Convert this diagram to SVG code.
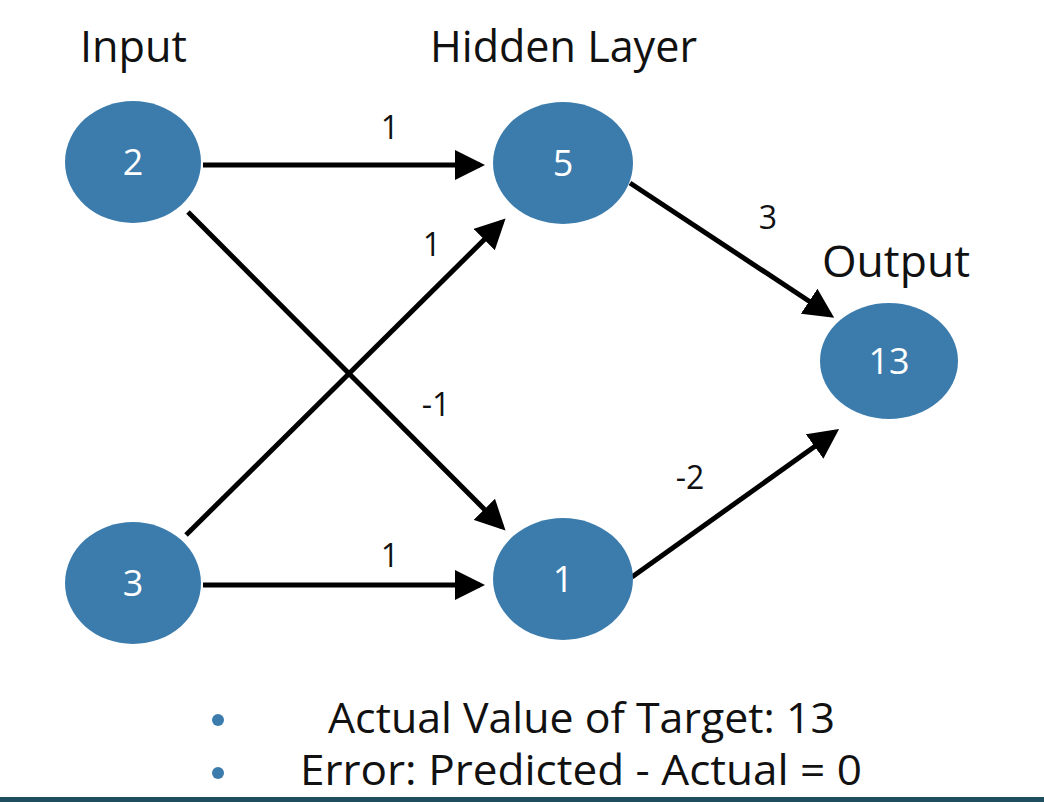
<svg xmlns="http://www.w3.org/2000/svg" width="1044" height="802" viewBox="0 0 1044 802">
<style>
.node{fill:#3b7cad}
.num{fill:#fff;font-family:"Open Sans","Liberation Sans",sans-serif;font-size:36px;text-anchor:middle}
.title{fill:#111;font-family:"Open Sans","Liberation Sans",sans-serif;font-size:43px}
.lbl{fill:#111;font-family:"Open Sans","Liberation Sans",sans-serif;font-size:32px;text-anchor:middle}
.bul{fill:#111;font-family:"Open Sans","Liberation Sans",sans-serif;font-size:42px}
.edge{stroke:#000;stroke-width:5;fill:none;marker-end:url(#ah)}
</style>
<defs>
<marker id="ah" markerWidth="6" markerHeight="6" refX="5" refY="3" orient="auto" markerUnits="strokeWidth" viewBox="0 0 6 6">
<path d="M0,0 L6,3 L0,6 z" fill="#000"/>
</marker>
</defs>
<rect width="1044" height="802" fill="#fff"/>
<text class="title" x="80" y="62" textLength="107" lengthAdjust="spacingAndGlyphs">Input</text>
<text class="title" x="430" y="62" textLength="267" lengthAdjust="spacingAndGlyphs">Hidden Layer</text>
<text class="title" x="822" y="277" textLength="148" lengthAdjust="spacingAndGlyphs">Output</text>
<g id="connectors">
<line class="edge" x1="203" y1="165" x2="480" y2="165"/>
<line class="edge" x1="203" y1="585" x2="480" y2="585"/>
<line class="edge" x1="188" y1="212" x2="502" y2="527"/>
<line class="edge" x1="186" y1="535" x2="502" y2="222"/>
<line class="edge" x1="630" y1="183" x2="830" y2="315"/>
<line class="edge" x1="632" y1="577" x2="835" y2="432"/>
<text class="lbl" x="390" y="139">1</text>
<text class="lbl" x="432" y="256">1</text>
<text class="lbl" x="768" y="229">3</text>
<text class="lbl" x="436" y="416">-1</text>
<text class="lbl" x="690" y="489">-2</text>
<text class="lbl" x="390" y="567">1</text>
</g>
<g id="n2"><ellipse class="node" cx="133" cy="162" rx="68" ry="61"/><text class="num" x="133" y="175">2</text></g>
<g id="n3"><ellipse class="node" cx="133" cy="583" rx="68" ry="61"/><text class="num" x="133" y="596">3</text></g>
<g id="n5"><ellipse class="node" cx="563" cy="163" rx="70" ry="61"/><text class="num" x="563" y="176">5</text></g>
<g id="n1"><ellipse class="node" cx="563" cy="579" rx="70" ry="61"/><text class="num" x="563" y="592">1</text></g>
<g id="n13"><ellipse class="node" cx="889" cy="361" rx="69" ry="58"/><text class="num" x="889" y="374">13</text></g>
<circle cx="218" cy="720" r="6" fill="#3b7cad"/>
<circle cx="218" cy="773" r="6" fill="#3b7cad"/>
<text class="bul" x="328" y="733" textLength="507" lengthAdjust="spacingAndGlyphs">Actual Value of Target: 13</text>
<text class="bul" x="300" y="785" textLength="562" lengthAdjust="spacingAndGlyphs">Error: Predicted - Actual = 0</text>
<rect x="0" y="797" width="1044" height="5" fill="#1f4e5f"/>
</svg>
